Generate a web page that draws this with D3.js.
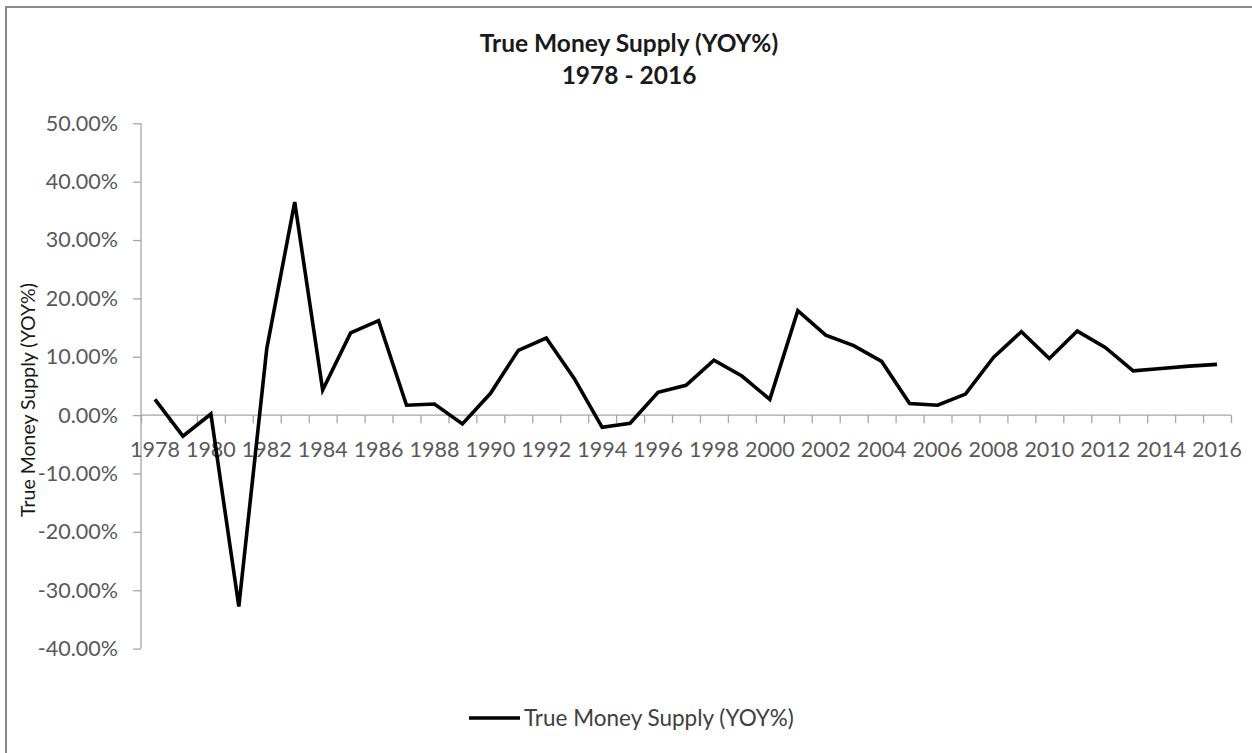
<!DOCTYPE html>
<html>
<head>
<meta charset="utf-8">
<script src="https://cdn.jsdelivr.net/npm/d3@7"></script>
<style>
    body { margin: 0; background: #fff; }
    text { font-family: Lato, "Open Sans", sans-serif; }
</style>
</head>
<body>
<div id="chart"></div>
<script>
const width = 1252, height = 753;

// data
const years = d3.range(1978, 2017).map(String);
const growth = [2.7, -3.6, 0.2, -32.8, 11.4, 36.5, 4.3, 14.1, 16.2, 1.7,
                1.9, -1.5, 3.7, 11.1, 13.2, 6.3, -2.1, -1.4, 3.9, 5.1,
                9.4, 6.7, 2.7, 17.9, 13.7, 11.9, 9.2, 2.0, 1.7, 3.6,
                9.9, 14.3, 9.7, 14.4, 11.6, 7.6, 8.0, 8.4, 8.7];
const yTicks = [-0.4, -0.3, -0.2, -0.1, 0, 0.1, 0.2, 0.3, 0.4, 0.5];
const seriesName = "True Money Supply (YOY%)";
const titleLines = ["True Money Supply (YOY%)", "1978 - 2016"];

var svg = d3.select("#chart")
    .append("svg")
    .attr("width", width)
    .attr("height", height);

// chart frame
svg.append("rect")
    .attr("x", 6).attr("y", 7)
    .attr("width", width + 20).attr("height", height + 20)
    .attr("fill", "none")
    .attr("stroke", "#898989")
    .attr("stroke-width", 2);

var x = d3.scaleBand().domain(years).range([141, 1231]).padding(0);
var xEdge = d3.scaleLinear().domain([0, years.length]).range([141, 1231]);
var y = d3.scaleLinear().domain([-0.4, 0.5]).range([648.6, 123.3]);

// y axis
var yAxis = svg.append("g")
    .attr("transform", "translate(141,0)")
    .call(d3.axisLeft(y).tickValues(yTicks).tickSize(8).tickPadding(15)
        .tickFormat(d => (d * 100).toFixed(2) + "%"));
yAxis.selectAll("path, line").attr("stroke", "#a6a6a6").attr("stroke-width", 1.3);
yAxis.select(".domain").attr("d", "M0," + y(0.5) + "V" + y(-0.4));
yAxis.selectAll("text")
    .attr("font-size", 21.5).attr("fill", "#595959")
    .attr("font-family", "Lato, sans-serif");

// x axis: tick marks on category edges
var xTickAxis = svg.append("g")
    .attr("transform", "translate(0," + y(0) + ")")
    .call(d3.axisBottom(xEdge).tickValues(d3.range(0, years.length + 1))
        .tickSize(8).tickFormat(""));
xTickAxis.selectAll("path, line").attr("stroke", "#a6a6a6").attr("stroke-width", 1.3);
xTickAxis.select(".domain").attr("d", "M141,0H1231");

// x labels every other year
var xLabelAxis = svg.append("g")
    .attr("transform", "translate(0," + y(0) + ")")
    .call(d3.axisBottom(x).tickValues(years.filter((d, i) => i % 2 == 0))
        .tickSize(0).tickPadding(0));
xLabelAxis.select(".domain").remove();
xLabelAxis.selectAll("text")
    .attr("font-size", 21.5).attr("fill", "#595959")
    .attr("y", 34).attr("dy", "0.35em")
    .attr("font-family", "Lato, sans-serif");

// series line
var line = d3.line()
    .x((d, i) => x(years[i]) + x.bandwidth() / 2)
    .y(d => y(d / 100));

svg.append("path")
    .datum(growth)
    .attr("d", line)
    .attr("fill", "none")
    .attr("stroke", "#000")
    .attr("stroke-width", 3.6)
    .attr("stroke-linejoin", "miter");

// title
svg.selectAll(".title").data(titleLines)
    .enter().append("text")
    .attr("class", "title")
    .attr("x", 629)
    .attr("y", (d, i) => 43 + i * 32)
    .attr("dy", "0.35em")
    .attr("text-anchor", "middle")
    .attr("font-size", 24.5)
    .attr("font-weight", "bold")
    .attr("fill", "#1a1a1a")
    .text(d => d);

// y axis title
svg.append("text")
    .attr("transform", "translate(28,400) rotate(-90)")
    .attr("dy", "0.35em")
    .attr("text-anchor", "middle")
    .attr("font-size", 19.5)
    .attr("fill", "#1a1a1a")
    .text(seriesName);

// legend
svg.append("line")
    .attr("x1", 469).attr("x2", 520)
    .attr("y1", 718).attr("y2", 718)
    .attr("stroke", "#000").attr("stroke-width", 3.6);
svg.append("text")
    .attr("x", 524).attr("y", 718)
    .attr("dy", "0.35em")
    .attr("font-size", 22.5)
    .attr("fill", "#404040")
    .text(seriesName);
</script>
</body>
</html>
